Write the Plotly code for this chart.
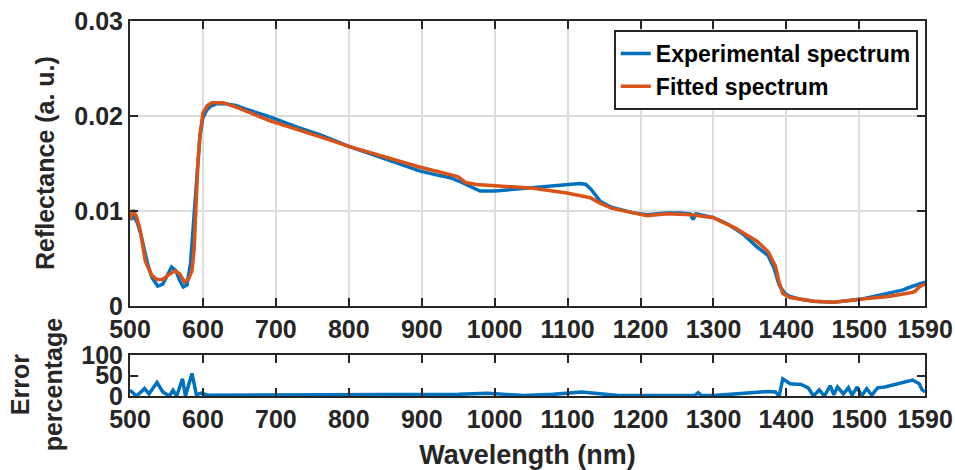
import plotly.graph_objects as go

# ---------------- data ----------------
wl_exp = [500, 505, 510, 515, 520, 525, 530, 538, 545, 550, 557, 563, 568, 573, 578,
          583, 587, 590, 593, 596, 600, 605, 610, 619, 630, 645, 660, 692, 730, 761,
          800, 850, 870, 898, 920, 939, 955, 970, 980, 1000, 1030, 1060, 1080, 1099,
          1110, 1117, 1125, 1132, 1140, 1145, 1160, 1190, 1209, 1236, 1254, 1268,
          1272, 1276, 1300, 1320, 1340, 1360, 1375, 1383, 1390, 1398, 1405, 1420,
          1437, 1465, 1501, 1530, 1560, 1570, 1588, 1590]
refl_exp = [0.0091, 0.0094, 0.0088, 0.0075, 0.0058, 0.0042, 0.0030, 0.0021, 0.0023,
            0.0030, 0.0041, 0.0037, 0.0027, 0.0020, 0.0022, 0.0045, 0.0085, 0.0120,
            0.0155, 0.0180, 0.0198, 0.0206, 0.0210, 0.0213, 0.0213, 0.0211, 0.0207,
            0.0199, 0.0188, 0.0180, 0.0168, 0.0155, 0.0150, 0.0142, 0.0138, 0.0135,
            0.0130, 0.0124, 0.0121, 0.0121, 0.0123, 0.0125, 0.0127, 0.0128, 0.0129,
            0.0129, 0.0128, 0.0123, 0.0115, 0.0110, 0.0104, 0.0098, 0.0096, 0.0098,
            0.0098, 0.0097, 0.0091, 0.0097, 0.0093, 0.0086, 0.0076, 0.0062, 0.0053,
            0.0040, 0.0022, 0.0013, 0.0010, 0.0007, 0.0005, 0.0004, 0.0007, 0.0012,
            0.0017, 0.0020, 0.0025, 0.0025]

wl_fit = [500, 504, 509, 514, 521, 530, 537, 545, 553, 562, 568, 575, 580, 585, 588,
          591, 593, 596, 600, 606, 612, 628, 650, 692, 730, 761, 800, 850, 898, 930,
          950, 955, 960, 975, 998, 1053, 1099, 1131, 1145, 1160, 1190, 1209, 1236,
          1270, 1300, 1330, 1360, 1375, 1385, 1390, 1395, 1405, 1437, 1465, 1501,
          1540, 1570, 1576, 1582, 1590]
refl_fit = [0.0091, 0.0101, 0.0094, 0.0080, 0.0047, 0.0032, 0.0028, 0.0028, 0.0033,
            0.0037, 0.0034, 0.0025, 0.0028, 0.0037, 0.0060, 0.0110, 0.0150, 0.0180,
            0.0203, 0.0211, 0.0214, 0.0214, 0.0208, 0.0195, 0.0186, 0.0178, 0.0168,
            0.0157, 0.0146, 0.0140, 0.0136, 0.0133, 0.0130, 0.0128, 0.0127, 0.0124,
            0.0119, 0.0114, 0.0108, 0.0103, 0.0098, 0.0095, 0.0097, 0.0096, 0.0093,
            0.0082, 0.0068, 0.0057, 0.0042, 0.0025, 0.0013, 0.0009, 0.0005, 0.0004,
            0.0007, 0.0010, 0.0014, 0.0015, 0.0020, 0.0023]

wl_err = [500, 509, 520, 526, 537, 545, 554, 559, 564, 572, 576, 585, 591, 598, 606,
          700, 800, 900, 950, 990, 1040, 1080, 1119, 1170, 1250, 1275, 1279, 1283,
          1300, 1350, 1375, 1385, 1390, 1395, 1405, 1420, 1430, 1437, 1445, 1452,
          1460, 1465, 1470, 1478, 1485, 1490, 1497, 1503, 1510, 1517, 1525, 1535,
          1550, 1573, 1582, 1586, 1590]
err_pct = [14, 0, 18, 5, 33, 10, 0, 14, 0, 42, 0, 55, 3, 7, 2,
           3, 2, 3, 4, 7, 1, 4, 10, 1, 2, 2, 8, 2,
           1, 8, 11, 10, 0, 42, 30, 28, 20, 0, 15, 0,
           25, 3, 22, 5, 20, 2, 22, 0, 18, 2, 20, 22,
           28, 39, 30, 15, 10]

x_ticks = [500, 600, 700, 800, 900, 1000, 1100, 1200, 1300, 1400, 1500, 1590]
y_ticks_top = [0, 0.01, 0.02, 0.03]
y_tick_text_top = ["0", "0.01", "0.02", "0.03"]
y_ticks_bot = [0, 50, 100]

BLUE = "#0072BD"
ORANGE = "#D95319"
AX = "#262626"
FONT = "Liberation Sans"

fig = go.Figure()
fig.add_trace(go.Scatter(x=wl_exp, y=refl_exp, mode="lines", name="Experimental spectrum",
                         line=dict(color=BLUE, width=3.5), xaxis="x", yaxis="y"))
fig.add_trace(go.Scatter(x=wl_fit, y=refl_fit, mode="lines", name="Fitted spectrum",
                         line=dict(color=ORANGE, width=3.5), xaxis="x", yaxis="y"))
fig.add_trace(go.Scatter(x=wl_err, y=err_pct, mode="lines", showlegend=False,
                         line=dict(color=BLUE, width=3.5), xaxis="x2", yaxis="y2"))

tickfont = dict(family=FONT, size=25, color=AX, weight="bold")
titlefont = dict(family=FONT, size=27, color=AX, weight="bold")
common_x = dict(range=[500, 1590], tickvals=x_ticks, ticks="inside", ticklen=8,
                tickwidth=2, tickcolor=AX, showline=True, linecolor=AX, linewidth=2,
                mirror="ticks", tickfont=tickfont, zeroline=False, automargin=False)
common_y = dict(ticks="inside", ticklen=8, tickwidth=2, tickcolor=AX, showline=True,
                linecolor=AX, linewidth=2, mirror="ticks", tickfont=tickfont,
                zeroline=False, automargin=False)

fig.update_layout(
    width=955, height=470,
    margin=dict(l=130, r=30, t=21, b=74),
    paper_bgcolor="white", plot_bgcolor="white",
    font=dict(family=FONT, color=AX),
    xaxis=dict(**common_x, domain=[0, 1], anchor="y", showgrid=True,
               gridcolor="#dcdcdc", gridwidth=2),
    yaxis=dict(**common_y, domain=[0.24, 1], range=[0, 0.03], tickvals=y_ticks_top,
               ticktext=y_tick_text_top, showgrid=True, gridcolor="#dcdcdc",
               gridwidth=2, anchor="x"),
    xaxis2=dict(**common_x, domain=[0, 1], anchor="y2", showgrid=False,
                title=dict(text="Wavelength (nm)", standoff=14, font=titlefont)),
    yaxis2=dict(**common_y, domain=[0, 0.1093], range=[0, 100], tickvals=y_ticks_bot,
                showgrid=False, anchor="x2"),
    legend=dict(x=0.991, y=0.976, xanchor="right", yanchor="top",
                bgcolor="white", bordercolor=AX, borderwidth=2,
                font=dict(family=FONT, size=23, color="black", weight="bold"),
                itemwidth=30, tracegroupgap=0),
)

# y-axis titles placed as text next to each panel
fig.add_annotation(text="Reflectance (a. u.)", xref="paper", yref="paper",
                   x=-0.107, y=0.621, xanchor="center", yanchor="middle",
                   textangle=-90, showarrow=False,
                   font=dict(family=FONT, size=25, color=AX, weight="bold"))
fig.add_annotation(text="Error<br>percentage", xref="paper", yref="paper",
                   x=-0.118, y=0.029, xanchor="center", yanchor="middle",
                   textangle=-90, showarrow=False,
                   font=dict(family=FONT, size=25, color=AX, weight="bold"))

fig.write_html("out.html", config={"displayModeBar": False},
               post_script="document.body.style.margin='0';document.body.style.padding='0';")
